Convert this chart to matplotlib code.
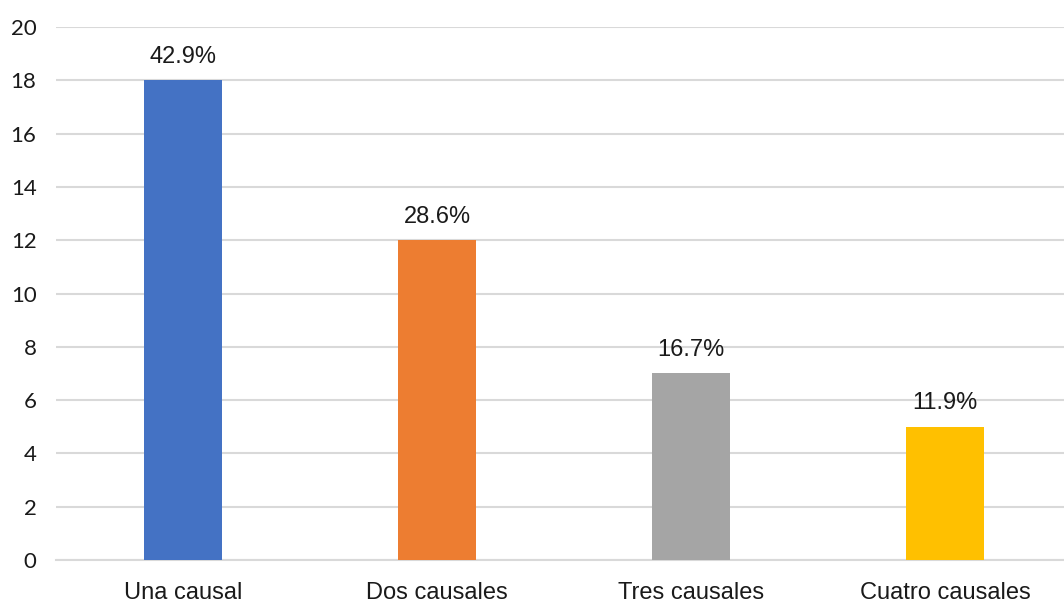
import matplotlib
matplotlib.use("Agg")
from matplotlib import pyplot as plt

CATEGORIES = ["Una causal", "Dos causales", "Tres causales", "Cuatro causales"]
COUNTS = [18, 12, 7, 5]
PERCENT_LABELS = ["42.9%", "28.6%", "16.7%", "11.9%"]
COLORS = ["#4472C4", "#ED7D31", "#A5A5A5", "#FFC000"]
Y_TICKS = list(range(0, 21, 2))

plt.rcParams["font.family"] = ["Liberation Sans", "DejaVu Sans"]

fig = plt.figure(figsize=(10.64, 6.08), dpi=100)
ax = fig.add_axes([56 / 1064, 48 / 608, 1016 / 1064, (560 - 27) / 608])

x = range(len(CATEGORIES))
bars = ax.bar(x, COUNTS, width=0.31, color=COLORS, zorder=3)

for bar, label in zip(bars, PERCENT_LABELS):
    ax.annotate(
        label,
        (bar.get_x() + bar.get_width() / 2, bar.get_height()),
        textcoords="offset points",
        xytext=(0, 9),
        ha="center",
        va="bottom",
        fontsize=17,
        color="#1a1a1a",
    )

ax.set_xlim(-0.5, 3.5)
ax.set_ylim(0, 20)
ax.set_yticks(Y_TICKS)
ax.set_yticklabels([str(t) for t in Y_TICKS], family=["Lato", "DejaVu Sans"], fontsize=16, color="#1a1a1a")
ax.set_xticks(list(x))
ax.set_xticklabels(CATEGORIES, fontsize=17, color="#1a1a1a")

ax.grid(axis="y", color="#d9d9d9", linewidth=1.5, zorder=0)
ax.tick_params(axis="both", length=0)
ax.tick_params(axis="y", pad=14)
ax.tick_params(axis="x", pad=16)
for side in ["top", "right", "left"]:
    ax.spines[side].set_visible(False)
ax.spines["bottom"].set_color("#d9d9d9")
ax.spines["bottom"].set_linewidth(1.5)

fig.savefig("out.png", dpi=100)
